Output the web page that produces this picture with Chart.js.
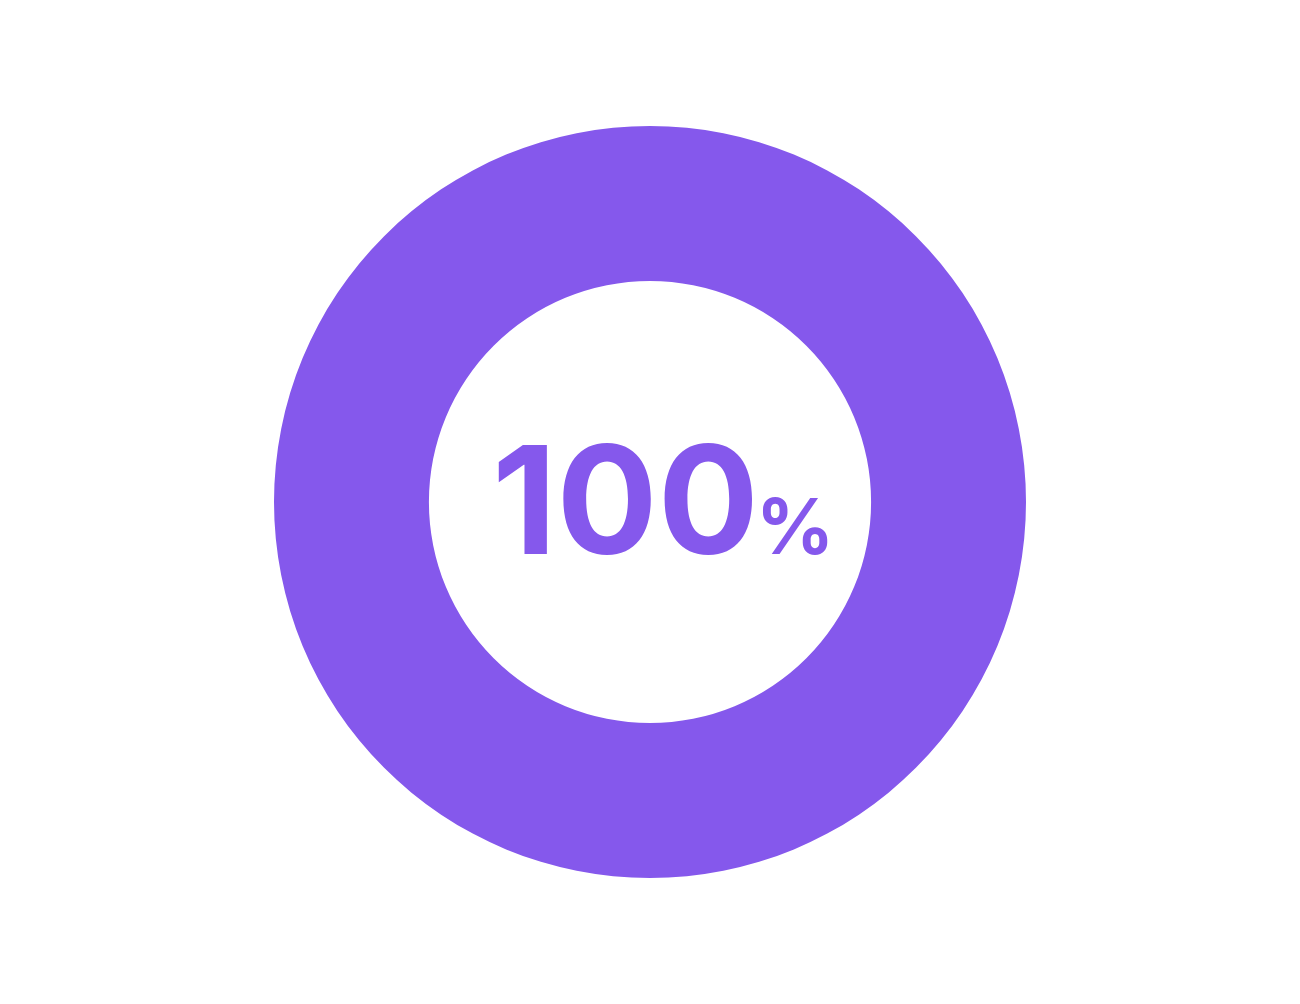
<!DOCTYPE html>
<html>
<head>
<meta charset="utf-8">
<script src="https://cdn.jsdelivr.net/npm/chart.js@4"></script>
<style>
  html, body { margin: 0; padding: 0; background: #ffffff; }
  #wrap { width: 1300px; height: 1004px; }
</style>
</head>
<body>
<div id="wrap"><canvas id="c"></canvas></div>
<script>
var labels = ["Complete"];
var values = [100];
var colors = ["#8558EC"];
var centerNumber = "100";
var centerUnit = "%";

// draws the percentage in the hole
var centerText = {
    id: "centerText",
    afterDraw: function (chart) {
        var ctx = chart.ctx;
        var meta = chart.getDatasetMeta(0).data[0];
        var cx = meta.x, cy = meta.y;
        ctx.save();
        ctx.fillStyle = colors[0];
        ctx.textBaseline = "alphabetic";
        ctx.textAlign = "left";
        ctx.font = "700 150px Inter";
        var w1 = ctx.measureText(centerNumber).width;
        ctx.font = "700 77px Inter";
        var w2 = ctx.measureText(centerUnit).width;
        var gap = -3;
        var x0 = cx + 13 - (w1 + gap + w2) / 2;
        var base = cy + 52;
        ctx.font = "700 150px Inter";
        ctx.fillText(centerNumber, x0, base);
        ctx.font = "700 77px Inter";
        ctx.fillText(centerUnit, x0 + w1 + gap, base);
        ctx.restore();
    }
};

new Chart(document.getElementById("c"), {
    type: "doughnut",
    data: {
        labels: labels,
        datasets: [{
            data: values,
            backgroundColor: colors,
            borderWidth: 0,
        }],
    },
    options: {
        responsive: true,
        maintainAspectRatio: false,
        animation: false,
        cutout: "58.8%",
        layout: {
            padding: { top: 126, bottom: 126 },
        },
        plugins: {
            legend: { display: false },
            tooltip: { enabled: false },
        },
    },
    plugins: [centerText],
});
</script>
</body>
</html>
